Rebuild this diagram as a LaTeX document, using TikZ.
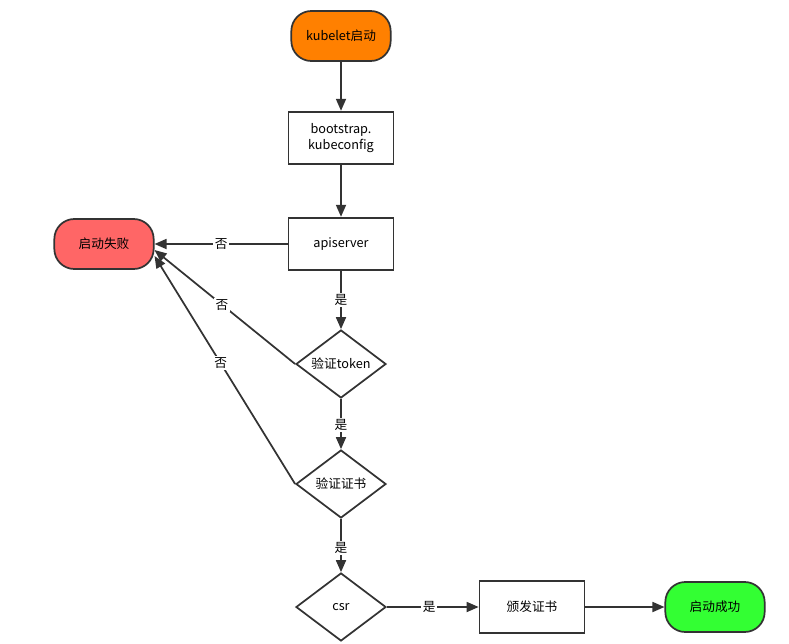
\documentclass[tikz,border=0pt]{standalone}
\usepackage{fontspec}
\setmainfont{Noto Sans CJK SC}
\usepackage{xcolor}
\usetikzlibrary{positioning,shapes.geometric,arrows.meta}
\definecolor{linegray}{HTML}{333333}
\definecolor{startorange}{HTML}{FF8000}
\definecolor{failred}{HTML}{FF6666}
\definecolor{okgreen}{HTML}{33FF33}
\tikzstyle{end state}=[
        draw = linegray,
        line width = 1.3pt,
        rounded corners = 15pt,
        minimum width = 74.5pt,
        minimum height = 37.5pt
    ]
\tikzstyle{box state}=[
    draw = linegray,
    line width = 1.3pt,
    fill = white,
    align = center,
    minimum width = 78.75pt,
    minimum height = 39.5pt
]
\tikzstyle{check state}=[
    draw = linegray,
    line width = 1.3pt,
    fill = white,
    diamond,
    aspect = 1.32,
    inner sep = 0pt,
    minimum width = 67.5pt,
    minimum height = 51pt
]

\begin{document}
\begin{tikzpicture}[x=0.75pt, y=-0.75pt, font=\fontsize{9.5pt}{12pt}\selectfont,
        flow/.style = {-{Triangle[length=9pt,width=7.5pt]}, draw = linegray, line width = 1.3pt},
        answer/.style = {fill = white, inner sep = 1pt, text = black}]
        \useasboundingbox (0,0) rectangle (789,643);

        \node[end state, fill = startorange] (kubelet) at (341,36) {kubelet启动};
        \node[box state] (bootstrap) [below of = kubelet, node distance = 76.5pt] {bootstrap.\\kubeconfig};
        \node[box state] (apiserver) [below of = bootstrap, node distance = 79.5pt] {apiserver};
        \node[end state, fill = failred] (fail) [left of = apiserver, node distance = 177.75pt] {启动失败};
        \node[check state] (token) [below of = apiserver, node distance = 90pt] {验证token};
        \node[check state] (cert) [below of = token, node distance = 90pt] {验证证书};
        \node[check state] (csr) [below of = cert, node distance = 92.25pt] {csr};
        \node[box state] (issue) [right of = csr, node distance = 143.25pt] {颁发证书};
        \node[end state, fill = okgreen] (ok) [right of = issue, node distance = 137.25pt] {启动成功};

        \draw[flow] (kubelet) -- (bootstrap);
        \draw[flow] (bootstrap) -- (apiserver);
        \draw[flow] (apiserver) -- (fail) node [answer, midway] {否};
        \draw[flow] (apiserver) -- (token) node [answer, midway] {是};
        \draw[flow] (token.west) -- ([yshift=-4.5pt]fail.east) node [answer, pos=0.52] {否};
        \draw[flow] (token) -- (cert) node [answer, pos=0.52] {是};
        \draw[flow] (cert.west) -- ([yshift=-9pt]fail.east) node [answer, pos=0.53] {否};
        \draw[flow] (cert) -- (csr) node [answer, pos=0.55] {是};
        \draw[flow] (csr) -- (issue) node [answer, pos=0.46] {是};
        \draw[flow] (issue) -- (ok);

    \end{tikzpicture}
\end{document}
